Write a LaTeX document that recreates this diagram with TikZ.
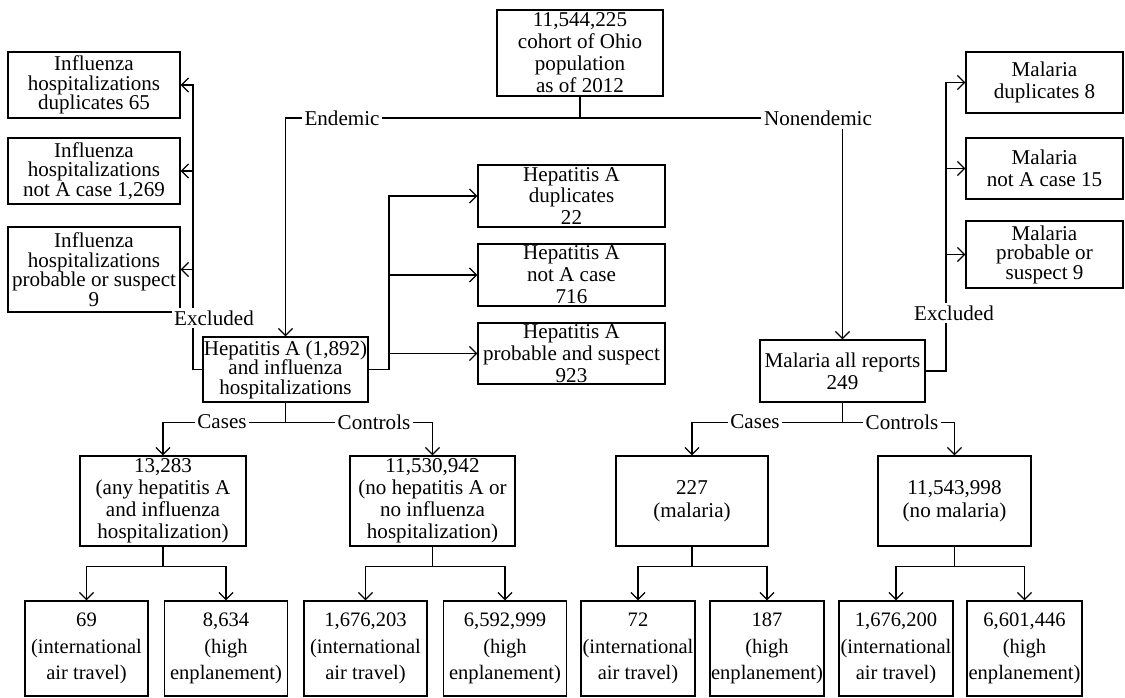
\documentclass[tikz,border=0pt]{standalone}
\usepackage{fontspec}
\setmainfont{Liberation Serif}
\usetikzlibrary{arrows.meta}
\begin{document}
\begin{tikzpicture}[x=0.02cm,y=-0.02cm,line width=0.7pt,>={Straight Barb[length=4pt,width=8pt]},
    box/.style={draw,line width=0.8pt,align=center,inner sep=0pt,font=\fontsize{12}{12.5}\selectfont},
    tight/.style={font=\fontsize{12}{11.1}\selectfont},
    leaf/.style={box,minimum height=1.9cm,font=\fontsize{11.7}{15}\selectfont},
    lbl/.style={fill=white,inner sep=1.5pt,font=\fontsize{12}{12.5}\selectfont}]
    \useasboundingbox (0,0) rectangle (1125,697);
    % top of the chart
    \node[box,minimum width=3.32cm,minimum height=1.72cm] (top) at (580,53) {11,544,225\\cohort of Ohio\\population\\as of 2012};
    \node[box,tight,minimum width=3.3cm,minimum height=1.3cm] (hep) at (285.5,369.5) {Hepatitis A (1,892)\\and influenza\\hospitalizations};
    \node[box,minimum width=3.3cm,minimum height=1.24cm] (mal) at (842.5,371) {Malaria all reports\\249};
    \node[lbl] (nonend) at (818,118) {Nonendemic};
    % excluded on the left
    \node[box,tight,minimum width=3.44cm,minimum height=1.32cm] (flu1) at (94,85) {Influenza\\hospitalizations\\duplicates 65};
    \node[box,tight,minimum width=3.44cm,minimum height=1.32cm] (flu2) at (94,171) {Influenza\\hospitalizations\\not A case 1,269};
    \node[box,tight,minimum width=3.44cm,minimum height=1.7cm] (flu3) at (94,269.5) {Influenza\\hospitalizations\\probable or suspect\\9};
    \node[box,minimum width=3.74cm,minimum height=1.24cm] (hepd) at (571.5,196) {Hepatitis A\\duplicates\\22};
    \node[box,minimum width=3.74cm,minimum height=1.24cm] (hepn) at (571.5,275) {Hepatitis A\\not A case\\716};
    \node[box,minimum width=3.74cm,minimum height=1.22cm] (hepp) at (571.5,353.5) {Hepatitis A\\probable and suspect\\923};
    % excluded on the right
    \node[box,minimum width=3.14cm,minimum height=1.22cm] (mald) at (1044.5,82.5) {Malaria\\duplicates 8};
    \node[box,minimum width=3.14cm,minimum height=1.22cm] (maln) at (1044.5,168.5) {Malaria\\not A case 15};
    \node[box,tight,minimum width=3.14cm,minimum height=1.34cm] (malp) at (1044.5,254.5) {Malaria\\probable or\\suspect 9};
    % cases and controls
    \node[box,minimum width=3.32cm,minimum height=1.8cm] (hcase) at (163,501) {13,283\\(any hepatitis A\\and influenza\\hospitalization)};
    \node[box,minimum width=3.3cm,minimum height=1.8cm] (hctrl) at (432.5,501) {11,530,942\\(no hepatitis A or\\no influenza\\hospitalization)};
    \node[box,font=\fontsize{12}{13.1}\selectfont,minimum width=3.04cm,minimum height=1.8cm] (mcase) at (692,501) {227\\(malaria)};
    \node[box,font=\fontsize{12}{13.1}\selectfont,minimum width=3.06cm,minimum height=1.8cm] (mctrl) at (954.5,501) {11,543,998\\(no malaria)};
    % bottom row
    \node[leaf,minimum width=2.46cm] (l1) at (86.5,648.5) {69\\(international\\air travel)};
    \node[leaf,minimum width=2.46cm] (l2) at (226,648.5) {8,634\\(high\\enplanement)};
    \node[leaf,minimum width=2.46cm] (l3) at (365.5,648.5) {1,676,203\\(international\\air travel)};
    \node[leaf,minimum width=2.46cm] (l4) at (505,648.5) {6,592,999\\(high\\enplanement)};
    \node[leaf,minimum width=2.28cm] (l5) at (638,648.5) {72\\(international\\air travel)};
    \node[leaf,minimum width=2.28cm] (l6) at (767,648.5) {187\\(high\\enplanement)};
    \node[leaf,minimum width=2.28cm] (l7) at (896,648.5) {1,676,200\\(international\\air travel)};
    \node[leaf,minimum width=2.3cm] (l8) at (1024.5,648.5) {6,601,446\\(high\\enplanement)};

    \coordinate (split) at (580,118);
    \draw (top.south) -- (split);
    \draw[->] (split) -| (hep.north);
    \draw (split) -- (nonend.west);
    \draw[->] (nonend.south -| mal.north) -- (mal.north);

    \coordinate (exl) at (193,0);
    \draw[->] (hep.west) -| (exl |- flu1.east) -- (flu1.east);
    \draw[->] (exl |- flu2.east) -- (flu2.east);
    \draw[->] (exl |- flu3.east) -- (flu3.east);

    \coordinate (hx) at (389,0);
    \draw[->] (hep.east) -| (hx |- hepd.west) -- (hepd.west);
    \draw[->] (hx |- hepn.west) -- (hepn.west);
    \draw[->] (hx |- hepp.west) -- (hepp.west);

    \coordinate (mx) at (946,0);
    \draw[->] (mal.east) -| (mx |- mald.west) -- (mald.west);
    \draw[->] (mx |- maln.west) -- (maln.west);
    \draw[->] (mx |- malp.west) -- (malp.west);

    \draw (hep.south) -- ++(0,20) coordinate (hsplit);
    \draw[->] (hsplit) -| (hcase.north);
    \draw[->] (hsplit) -| (hctrl.north);
    \draw (mal.south) -- ++(0,20) coordinate (msplit);
    \draw[->] (msplit) -| (mcase.north);
    \draw[->] (msplit) -| (mctrl.north);

    \draw (hcase.south) -- ++(0,20) coordinate (s1);
    \draw[->] (s1) -| (l1.north);
    \draw[->] (s1) -| (l2.north);
    \draw (hctrl.south) -- ++(0,20) coordinate (s2);
    \draw[->] (s2) -| (l3.north);
    \draw[->] (s2) -| (l4.north);
    \draw (mcase.south) -- ++(0,20) coordinate (s3);
    \draw[->] (s3) -| (l5.north);
    \draw[->] (s3) -| (l6.north);
    \draw (mctrl.south) -- ++(0,20) coordinate (s4);
    \draw[->] (s4) -| (l7.north);
    \draw[->] (s4) -| (l8.north);

    % labels on the lines
    \node[lbl] (endem) at (342,118) {Endemic};
    \node[lbl] (exclL) at (214,318) {Excluded};
    \node[lbl] (exclR) at (954,313) {Excluded};
    \node[lbl] (hcl) at (222,422) {Cases};
    \node[lbl] (hctl) at (374,422) {Controls};
    \node[lbl] (mcl) at (755,422) {Cases};
    \node[lbl] (mctl) at (902,422) {Controls};
\end{tikzpicture}
\end{document}
